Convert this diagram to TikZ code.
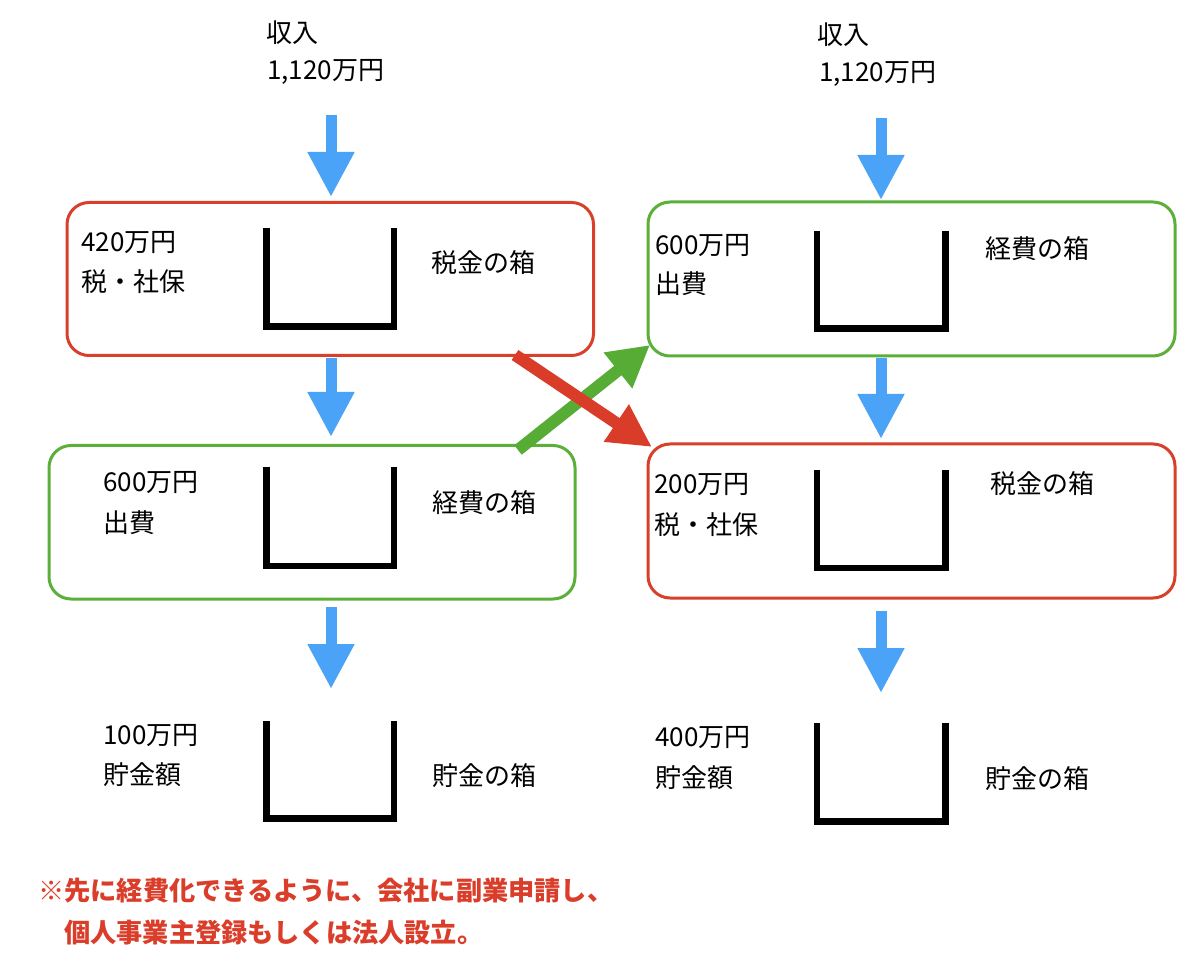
\documentclass[tikz,border=0pt]{standalone}
\usepackage{fontspec}
\setmainfont{Noto Sans CJK JP}
\usetikzlibrary{arrows.meta}
\definecolor{boxred}{RGB}{217,64,43}
\definecolor{boxgreen}{RGB}{92,176,58}
\definecolor{arrblue}{RGB}{74,163,247}
\definecolor{arrred}{RGB}{217,60,40}
\definecolor{arrgreen}{RGB}{86,172,52}
\definecolor{notered}{RGB}{218,62,42}
\tikzset{
  lbl/.style={anchor=west, inner sep=0pt, font=\fontsize{26}{30}\selectfont},
  note/.style={anchor=west, inner sep=0pt, text=notered, font=\fontsize{26.2}{30}\selectfont\bfseries},
  redbox/.style={draw=boxred, line width=3pt, rounded corners=22pt, fill=none},
  greenbox/.style={draw=boxgreen, line width=3pt, rounded corners=22pt, fill=none},
  bucket/.style={draw=black, line width=6.5pt, line join=miter, line cap=butt},
  bluearrow/.style={draw=arrblue, line width=11pt, -{Triangle[length=45pt,width=44pt]}},
  redarrow/.style={draw=arrred, line width=12pt, -{Triangle[length=43pt,width=42pt]}},
  greenarrow/.style={draw=arrgreen, line width=12pt, -{Triangle[length=41pt,width=43pt]}}
}
\begin{document}
\begin{tikzpicture}[x=1pt,y=-1pt]
\fill[white] (0,0) rectangle (1200,965);
\useasboundingbox (0,0) rectangle (1200,965);

% boxes
\node[redbox, minimum width=526.5pt, minimum height=153pt] (box1) at (330.25,279) {};
\node[greenbox, minimum width=526pt, minimum height=153.5pt] (box2) at (312,522.25) {};
\node[greenbox, minimum width=527pt, minimum height=154pt] (box3) at (911.5,279) {};
\node[redbox, minimum width=527pt, minimum height=154pt] (box4) at (911.5,521) {};

% buckets left
\draw[bucket] (266.5,228) -- (266.5,326.5) -- (394,326.5) -- (394,228);
\draw[bucket] (266.5,467) -- (266.5,566) -- (394,566) -- (394,467);
\draw[bucket] (266.5,721) -- (266.5,818.5) -- (394,818.5) -- (394,721);
% buckets right
\draw[bucket] (817,231) -- (817,328.5) -- (945.5,328.5) -- (945.5,231);
\draw[bucket] (817,470) -- (817,568) -- (945.5,568) -- (945.5,470);
\draw[bucket] (817,723) -- (817,821.5) -- (945.5,821.5) -- (945.5,723);

% texts left
\node[lbl] (incL1) at (266,33) {収入};
\node[lbl] (incL2) at (267,72) {1,120万円};
\node[lbl] (taxL1) at (81,243) {420万円};
\node[lbl] (taxL2) at (81,282) {税・社保};
\node[lbl] (taxLb) at (431,263) {税金の箱};
\node[lbl] (expL1) at (103,483) {600万円};
\node[lbl] (expL2) at (103,523) {出費};
\node[lbl] (expLb) at (432,503) {経費の箱};
\node[lbl] (savL1) at (103,736) {100万円};
\node[lbl] (savL2) at (103,775) {貯金額};
\node[lbl] (savLb) at (432,776) {貯金の箱};
% texts right
\node[lbl] (incR1) at (817,35) {収入};
\node[lbl] (incR2) at (819,74) {1,120万円};
\node[lbl] (expR1) at (655,246) {600万円};
\node[lbl] (expR2) at (655,284) {出費};
\node[lbl] (expRb) at (985,249) {経費の箱};
\node[lbl] (taxR1) at (654,485) {200万円};
\node[lbl] (taxR2) at (654,525) {税・社保};
\node[lbl] (taxRb) at (990,484) {税金の箱};
\node[lbl] (savR1) at (655,738) {400万円};
\node[lbl] (savR2) at (655,778) {貯金額};
\node[lbl] (savRb) at (985,779) {貯金の箱};

% note
\node[note] (note1) at (38,891) {※先に経費化できるように、会社に副業申請し、};
\node[note] (note2) at (64,933) {個人事業主登録もしくは法人設立。};

% arrow coordinates
\coordinate (a1s) at (331,115); \coordinate (a1e) at (331,197);
\coordinate (a2s) at (331,358); \coordinate (a2e) at (331,437);
\coordinate (a3s) at (331,607); \coordinate (a3e) at (331,689);
\coordinate (a4s) at (881,118); \coordinate (a4e) at (881,200);
\coordinate (a5s) at (881,358); \coordinate (a5e) at (881,439);
\coordinate (a6s) at (881,611); \coordinate (a6e) at (881,693);
\coordinate (gs) at (518,450); \coordinate (ge) at (650,345);
\coordinate (rs) at (515,355); \coordinate (re) at (652,447);

\draw[bluearrow] (a1s) -- (a1e);
\draw[bluearrow] (a2s) -- (a2e);
\draw[bluearrow] (a3s) -- (a3e);
\draw[bluearrow] (a4s) -- (a4e);
\draw[bluearrow] (a5s) -- (a5e);
\draw[bluearrow] (a6s) -- (a6e);
\draw[greenarrow] (gs) -- (ge);
\draw[redarrow] (rs) -- (re);
\end{tikzpicture}
\end{document}
